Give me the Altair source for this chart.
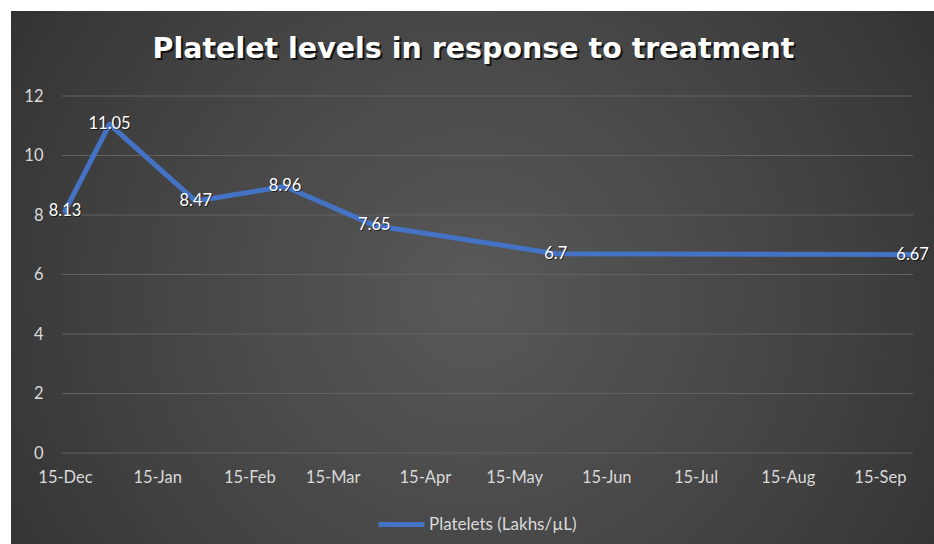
import altair as alt
import pandas as pd

# ---- data ----
dates = ["2020-12-15", "2020-12-30", "2021-01-28", "2021-02-27",
         "2021-03-29", "2021-05-29", "2021-09-26"]
platelets = [8.13, 11.05, 8.47, 8.96, 7.65, 6.7, 6.67]
series_name = "Platelets (Lakhs/µL)"
title_text = "Platelet levels in response to treatment"
tick_dates = [(2020, 12), (2021, 1), (2021, 2), (2021, 3), (2021, 4),
              (2021, 5), (2021, 6), (2021, 7), (2021, 8), (2021, 9)]
y_ticks = [0, 2, 4, 6, 8, 10, 12]

df = pd.DataFrame({"date": dates, "value": platelets,
                   "label": [f"{v:g}" for v in platelets],
                   "series": series_name})
grid_df = pd.DataFrame({"g": y_ticks})

W, H = 851, 357
PAD_L, PAD_T, PAD_R, PAD_B = 62, 96, 21, 91
FONT = "Lato"

x_scale = alt.Scale(
    type="utc",
    domain=[alt.DateTime(year=2020, month=12, date=14, utc=True),
            alt.DateTime(year=2021, month=9, date=26, hours=3, utc=True)],
)
y_scale = alt.Scale(domain=[0, 12])
x_axis = alt.Axis(
    values=[alt.DateTime(year=y, month=m, date=15, utc=True) for y, m in tick_dates],
    labelExpr="utcFormat(datum.value, '%d-%b')",
    title=None, grid=False, domain=False, ticks=False, zindex=1,
    labelColor="#d9d9d9", labelFont=FONT, labelFontSize=16.5,
    labelPadding=16, labelFlush=False, labelOverlap=False,
)
y_axis = alt.Axis(
    values=y_ticks, title=None, domain=False, ticks=False, grid=False, zindex=1,
    labelColor="#d9d9d9", labelFont=FONT, labelFontSize=16.5, labelPadding=19,
)

base = alt.Chart(df)

bg = alt.Chart(pd.DataFrame({"a": [0]})).mark_rect(
    fill=alt.RadialGradient(
        gradient="radial",
        stops=[alt.GradientStop(color="#595959", offset=0),
               alt.GradientStop(color="#404040", offset=0.55),
               alt.GradientStop(color="#262626", offset=1)],
        x1=0.5, y1=0.52, r1=0, x2=0.5, y2=0.52, r2=0.75,
    ),
    stroke=None,
).encode(
    x=alt.value(-(PAD_L - 11)), x2=alt.value(W + PAD_R),
    y=alt.value(-(PAD_T - 11)), y2=alt.value(H + PAD_B),
)

grid = alt.Chart(grid_df).mark_rule(color="#626262", strokeWidth=1.2).encode(
    y=alt.Y("g:Q", scale=y_scale, axis=y_axis),
)

line = base.mark_line(strokeWidth=5, strokeCap="round", strokeJoin="round").encode(
    x=alt.X("date:T", scale=x_scale, axis=x_axis),
    y=alt.Y("value:Q", scale=y_scale, axis=y_axis),
    color=alt.Color(
        "series:N",
        scale=alt.Scale(domain=[series_name], range=["#4472C4"]),
        legend=alt.Legend(
            title=None, orient="none", legendX=314, legendY=403,
            symbolType="stroke", symbolSize=2116, symbolStrokeWidth=5,
            labelColor="#d9d9d9", labelFont=FONT, labelFontSize=17,
            labelOffset=2,
        ),
    ),
)

lab_shadow = base.mark_text(
    font=FONT, fontSize=16.5, color="#000000", opacity=0.55,
    dx=1, dy=1, baseline="middle", align="center",
).encode(x=alt.X("date:T", scale=x_scale), y=alt.Y("value:Q", scale=y_scale), text="label:N")

labels = base.mark_text(
    font=FONT, fontSize=16.5, color="#ffffff", baseline="middle", align="center",
).encode(x=alt.X("date:T", scale=x_scale), y=alt.Y("value:Q", scale=y_scale), text="label:N")

TFONT = "DejaVu Sans"
title_shadow = alt.Chart(pd.DataFrame({"t": [title_text]})).mark_text(
    font=TFONT, fontSize=28.5, fontWeight="bold", color="#000000", opacity=0.7,
    align="center", baseline="alphabetic",
).encode(x=alt.value(473.5 - PAD_L + 2), y=alt.value(58 - PAD_T + 2), text="t:N")

title = alt.Chart(pd.DataFrame({"t": [title_text]})).mark_text(
    font=TFONT, fontSize=28.5, fontWeight="bold", color="#ffffff",
    align="center", baseline="alphabetic",
).encode(x=alt.value(473.5 - PAD_L), y=alt.value(58 - PAD_T), text="t:N")

chart = alt.layer(bg, grid, line, lab_shadow, labels, title_shadow, title).properties(
    width=W, height=H,
    autosize=alt.AutoSizeParams(type="none"),
    padding={"left": PAD_L, "top": PAD_T, "right": PAD_R, "bottom": PAD_B},
    background="#ffffff",
).configure_view(stroke=None)

chart.save("out.html", embed_options={"renderer": "svg", "actions": False})
